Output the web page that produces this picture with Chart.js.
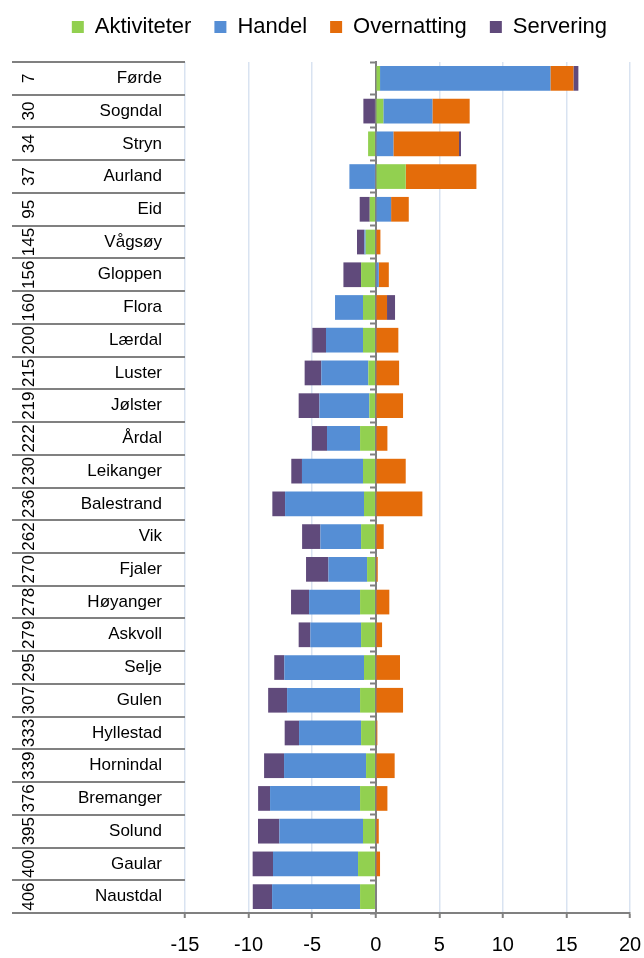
<!DOCTYPE html>
<html>
<head>
<meta charset="utf-8">
<script src="https://cdn.jsdelivr.net/npm/chart.js@4"></script>
<style>
  html, body { margin: 0; padding: 0; background: #fff; }
  #wrap { width: 644px; height: 958px; }
</style>
</head>
<body>
<div id="wrap"><canvas id="chart"></canvas></div>
<script>
const kommuner = ['Førde', 'Sogndal', 'Stryn', 'Aurland', 'Eid', 'Vågsøy', 'Gloppen', 'Flora', 'Lærdal',
    'Luster', 'Jølster', 'Årdal', 'Leikanger', 'Balestrand', 'Vik', 'Fjaler', 'Høyanger', 'Askvoll',
    'Selje', 'Gulen', 'Hyllestad', 'Hornindal', 'Bremanger', 'Solund', 'Gaular', 'Naustdal'];
const rangering = ['7', '30', '34', '37', '95', '145', '156', '160', '200', '215', '219', '222', '230',
    '236', '262', '270', '278', '279', '295', '307', '333', '339', '376', '395', '400', '406'];

const aktiviteter = [0.34, 0.6, -0.6, 2.36, -0.47, -0.79, -1.15, -1.0, -1.0, -0.58, -0.5, -1.23, -1.0,
    -0.92, -1.15, -0.68, -1.23, -1.15, -0.92, -1.23, -1.15, -0.76, -1.23, -1.0, -1.39, -1.23];
const handel = [13.4, 3.86, 1.39, -2.07, 1.21, -0.1, 0.24, -2.2, -2.91, -3.7, -3.93, -2.6, -4.8,
    -6.21, -3.2, -3.04, -4.01, -3.99, -6.27, -5.74, -4.88, -6.45, -7.08, -6.58, -6.69, -6.92];
const overnatting = [1.81, 2.93, 5.16, 5.56, 1.39, 0.37, 0.79, 0.89, 1.78, 1.84, 2.15, 0.92, 2.36,
    3.67, 0.63, 0.16, 1.07, 0.5, 1.91, 2.15, 0.13, 1.49, 0.92, 0.24, 0.34, 0];
const servering = [0.39, -0.97, 0.16, 0, -0.79, -0.58, -1.39, 0.63, -1.07, -1.31, -1.63, -1.18, -0.84,
    -1.0, -1.44, -1.76, -1.42, -0.92, -0.79, -1.49, -1.13, -1.57, -0.94, -1.68, -1.6, -1.52];

const xTicks = [-15, -10, -5, 0, 5, 10, 15, 20];

const FONT = '"Liberation Sans", Arial, sans-serif';
const GREY = '#808080';

// legend needs more room below it than chart.js gives
const legendSpacer = {
    id: 'legendSpacer',
    beforeInit(chart) {
        const fit = chart.legend.fit;
        chart.legend.fit = function () {
            fit.call(this);
            this.height += 14;
        };
    }
};

function bar(label, data, color) {
    return { label, data, backgroundColor: color, borderWidth: 0, barPercentage: 0.755, categoryPercentage: 1 };
}

new Chart(document.getElementById('chart'), {
    type: 'bar',
    data: {
        labels: kommuner,
        datasets: [
            bar('Aktiviteter', aktiviteter, '#92D050'),
            bar('Handel', handel, '#558ED5'),
            bar('Overnatting', overnatting, '#E46C0A'),
            bar('Servering', servering, '#604A7B')
        ]
    },
    options: {
        indexAxis: 'y',
        responsive: true,
        maintainAspectRatio: false,
        animation: false,
        layout: { padding: { top: -7, left: 12, right: 14, bottom: -14 } },
        plugins: {
            tooltip: { enabled: false },
            legend: {
                position: 'top',
                align: 'end',
                labels: {
                    boxWidth: 12, boxHeight: 12, padding: 23, color: '#000',
                    font: { family: FONT, size: 22 }
                }
            }
        },
        scales: {
            x: {
                stacked: true,
                min: xTicks[0],
                max: xTicks[xTicks.length - 1],
                afterBuildTicks: (s) => { s.ticks = xTicks.map(v => ({ value: v })); },
                // tick padding would otherwise eat into the right margin
                afterFit: (s) => { s.paddingLeft = 0; s.paddingRight = 0; },
                ticks: { color: '#000', padding: 15, font: { family: FONT, size: 20 } },
                grid: { color: '#D9E3F1', lineWidth: 1.5, tickColor: GREY, tickWidth: 2, tickLength: 5 },
                border: { color: GREY, width: 2 }
            },
            y: {
                stacked: true,
                weight: 0,
                afterFit: (s) => { s.width = 140; },
                ticks: {
                    autoSkip: false, color: '#000', padding: -117, crossAlign: 'near',
                    font: { family: FONT, size: 17 }
                },
                grid: {
                    offset: true, drawOnChartArea: false, drawTicks: true, tickLength: 140,
                    tickColor: GREY, tickWidth: 2, lineWidth: 2
                },
                border: { display: false }
            },
            yRank: {
                type: 'category',
                labels: rangering,
                position: 'left',
                weight: 1,
                offset: true,
                afterFit: (s) => { s.width = 33; },
                ticks: {
                    autoSkip: false, color: '#000', padding: -31, crossAlign: 'center',
                    minRotation: 90, maxRotation: 90,
                    font: { family: FONT, size: 17 }
                },
                grid: {
                    offset: true, drawOnChartArea: false, drawTicks: true, tickLength: 33,
                    tickColor: GREY, tickWidth: 2, lineWidth: 2
                },
                border: { display: false }
            },
            yZero: {
                type: 'category',
                labels: kommuner,
                position: { x: 0 },
                offset: true,
                z: 1,
                afterFit: (s) => { s.width = 0; },
                ticks: { display: false },
                grid: {
                    offset: true, drawOnChartArea: false, drawTicks: true, tickLength: 5,
                    tickColor: GREY, tickWidth: 2
                },
                border: { display: true, color: GREY, width: 2 }
            }
        }
    },
    plugins: [legendSpacer]
});
</script>
</body>
</html>
